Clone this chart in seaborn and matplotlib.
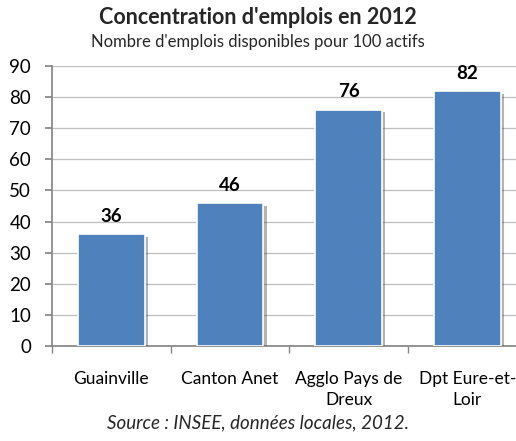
import numpy as np
import pandas as pd
import matplotlib
matplotlib.use('Agg')
import matplotlib.pyplot as plt
import matplotlib.patheffects as pe
import seaborn as sns

# Données
categories = ['Guainville', 'Canton Anet', 'Agglo Pays de\nDreux', 'Dpt Eure-et-\nLoir']
valeurs = [36, 46, 76, 82]
yticks = [0, 10, 20, 30, 40, 50, 60, 70, 80, 90]

sns.set_theme(style='white')
plt.rcParams['font.family'] = ['Lato', 'DejaVu Sans']

df = pd.DataFrame({'cat': categories, 'val': valeurs})

fig = plt.figure(figsize=(5.16, 4.41), dpi=100)
ax = fig.add_axes([52 / 516, 95 / 441, 1 - 52 / 516, 280 / 441])

sns.barplot(data=df, x='cat', y='val', color='#4F81BD', width=0.56,
            saturation=1, edgecolor='white', linewidth=1.2, ax=ax, zorder=3)

for p in ax.patches:
    p.set_path_effects([pe.SimplePatchShadow(offset=(2.5, -2), shadow_rgbFace='#444444', alpha=0.4),
                        pe.Normal()])

for i, v in enumerate(valeurs):
    ax.text(i, v + 3, str(v), ha='center', va='bottom',
            fontsize=13.5, fontweight='bold', color='black')

ax.set_ylim(0, 90)
ax.set_xlim(-0.5, 3.41)
ax.set_yticks(yticks)
ax.yaxis.grid(True, color='#BFBFBF', linewidth=0.9, zorder=0)
ax.set_axisbelow(True)

for s in ['top', 'right']:
    ax.spines[s].set_visible(False)
ax.spines['left'].set_color('#868686')
ax.spines['bottom'].set_color('#868686')

ax.tick_params(axis='y', which='major', direction='out', length=5, color='#868686',
               left=True, labelsize=13.5, labelcolor='black', pad=10)
ax.tick_params(axis='x', which='major', length=0, labelsize=12.5, labelcolor='black', pad=18)
for lbl in ax.get_xticklabels():
    lbl.set_linespacing(1.35)
ax.set_xticks([-0.5, 0.5, 1.5, 2.5], minor=True)
ax.tick_params(axis='x', which='minor', direction='out', length=5, color='#868686', bottom=True)
ax.set_xlabel('')
ax.set_ylabel('')

fig.text(0.5, 423 / 441, "Concentration d'emplois en 2012", ha='center', va='center',
         fontsize=15.5, fontweight='bold')
fig.text(0.5, 399 / 441, "Nombre d'emplois disponibles pour 100 actifs", ha='center',
         va='center', fontsize=12)
fig.text(0.5, 18 / 441, "Source : INSEE, données locales, 2012.", ha='center', va='center',
         fontsize=13.5, style='italic')

fig.savefig('out.png', dpi=100)
